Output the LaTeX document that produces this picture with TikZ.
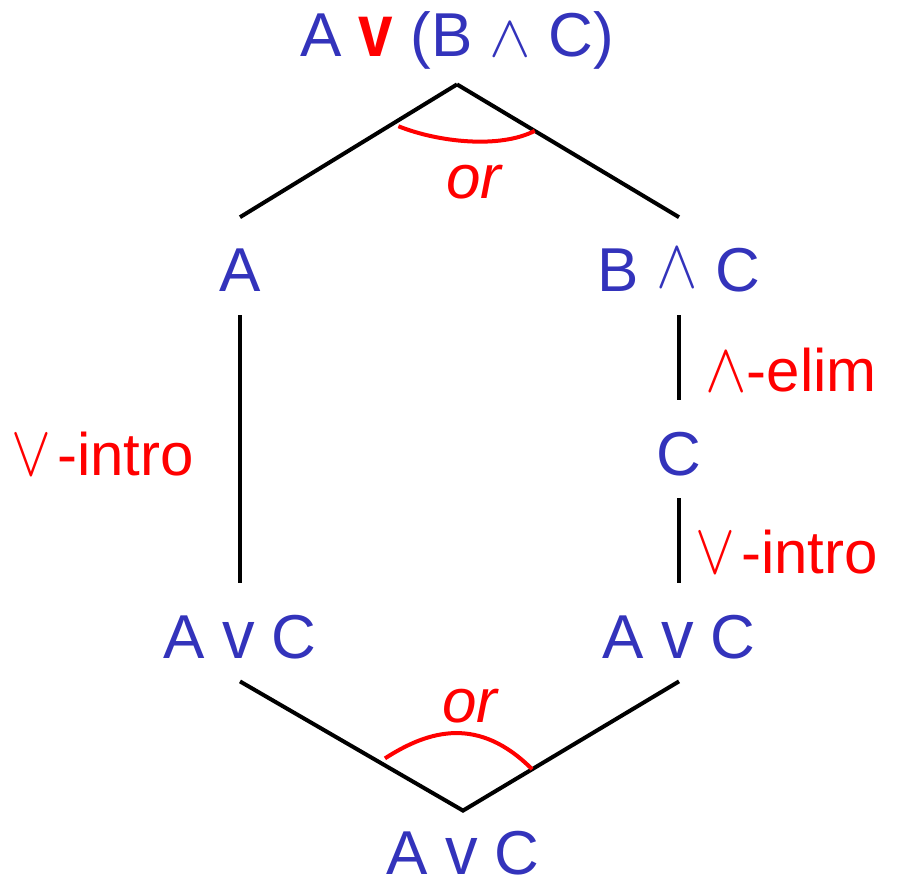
\documentclass[tikz,border=0pt]{standalone}
\usepackage{fontspec}
\setmainfont{Liberation Sans}
\usetikzlibrary{positioning,calc}
\definecolor{propblue}{RGB}{51,51,187}
\definecolor{rulered}{RGB}{255,0,0}
\newcommand{\orv}{\scalebox{1.05}[1.1]{v}}
\newcommand{\andw}{\scalebox{1.25}[1.4]{$\wedge$}}
\newcommand{\orw}{\scalebox{1.2}[1.45]{$\vee$}}
\tikzset{
  prop/.style={text=propblue, font=\fontsize{31}{37}\selectfont, inner sep=0pt,
    text height=37.2pt, text depth=11.5pt, anchor=base},
  rulelabel/.style={text=rulered, font=\fontsize{30}{36}\selectfont, inner sep=0pt, anchor=base west},
  orlabel/.style={text=rulered, font=\fontsize{31}{37}\selectfont\itshape, inner sep=0pt, anchor=base},
  branch/.style={line width=2pt, draw=black},
  orarc/.style={line width=2pt, draw=rulered}
}

\begin{document}
\begin{tikzpicture}[x=0.5pt, y=-0.5pt]
  \useasboundingbox (0,0) rectangle (897,886);
  \node[prop, text depth=13.5pt] (top) at (457,57) {A \textcolor{rulered}{\scalebox{1}[1.2]{\textbf{v}}} (B \scalebox{1.25}[1.2]{$\wedge$} C)};
  \node[prop] (a) at (240,292) {A};
  \node[prop] (bc) at (679,292) {B \raisebox{2pt}{\andw} C};
  \node[prop] (c) at (679,475) {C};
  \node[prop] (avcl) at (240,658) {A \orv{} C};
  \node[prop] (avcr) at (679,658) {A \orv{} C};
  \node[prop, text height=31.5pt, text depth=2pt] (avc) at (463,874) {A \orv{} C};
  \draw[branch] (top.south) -- (a.north);
  \draw[branch] (top.south) -- (bc.north);
  \draw[branch] (a.south) -- (avcl.north);
  \draw[branch] (bc.south) -- (c.north);
  \draw[branch] (c.south) -- (avcr.north);
  \draw[branch] (avcl.south) -- (avc.north) -- (avcr.south);
  \coordinate (orl) at ($(top.south)!0.27!(a.north)+(0,6)$);
  \coordinate (orr) at ($(top.south)!0.35!(bc.north)$);
  \draw[orarc] (orl) .. controls +(40,16) and +(-35,18) .. (orr);
  \node[orlabel] (ortop) at (474,199) {or};
  \coordinate (obl) at ($(avcl.south)!0.65!(avc.north)+(0,-7)$);
  \coordinate (obr) at ($(avc.north)!0.32!(avcr.south)$);
  \draw[orarc] (obl) .. controls +(45,-29) and +(-53,-53) .. (obr);
  \node[orlabel] (orbot) at (470,722) {or};
  \node[rulelabel] (elim) at (705,392) {\andw-elim};
  \node[rulelabel] (introl) at (11,475) {\orw\hspace{0.1em}-intro};
  \node[rulelabel] (intror) at (695,573) {\orw\hspace{0.1em}-intro};
\end{tikzpicture}
\end{document}
